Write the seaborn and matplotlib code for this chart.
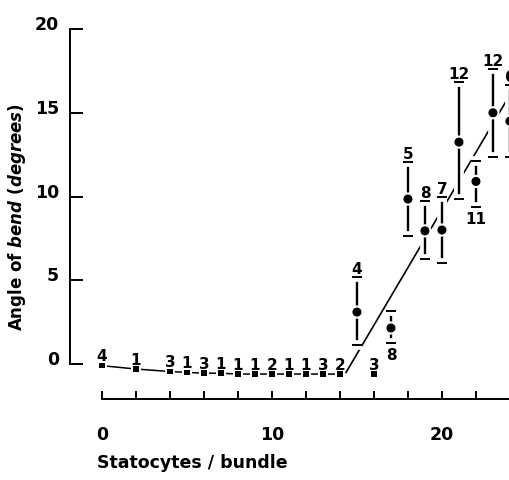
import numpy as np
import pandas as pd
import matplotlib
matplotlib.use("Agg")
import matplotlib.pyplot as plt
import matplotlib.patheffects as pe
from matplotlib.transforms import ScaledTranslation
import seaborn as sns

# ---- data ----
low_x = [0, 2, 4, 5, 6, 7, 8, 9, 10, 11, 12, 13, 14]
low_y = [-0.1, -0.3, -0.45, -0.5, -0.55, -0.55, -0.6, -0.6, -0.6, -0.6, -0.6, -0.6, -0.6]
low_n = [4, 1, 3, 1, 3, 1, 1, 1, 2, 1, 1, 3, 2]

lone_x = [16]
lone_y = [-0.6]
lone_n = [3]

err_x = [15, 17, 18, 19, 20, 21, 22, 23, 24]
err_y = [3.1, 2.15, 9.85, 7.95, 8.0, 13.25, 10.9, 15.0, 14.5]
err_lo = [1.13, 1.25, 7.64, 6.27, 6.03, 9.85, 9.37, 12.36, 12.36]
err_hi = [5.2, 3.16, 12.06, 9.73, 9.97, 16.84, 12.12, 17.61, 16.66]
err_n = [4, 8, 5, 8, 7, 12, 11, 12, 6]
err_label_below = [False, True, False, False, False, False, True, False, False]

fit_slope = 1.72
fit_intercept = -25.2
fit_x_range = [14.35, 25.5]

x_major = [0, 10, 20]
x_minor = list(range(0, 26, 2))
y_ticks = [0, 5, 10, 15, 20]

# ---- style ----
sns.set_style("ticks")
plt.rcParams["font.family"] = ["DejaVu Sans"]
plt.rcParams["font.weight"] = "bold"
plt.rcParams["mathtext.fontset"] = "dejavusans"
for k in ["text.color", "axes.labelcolor", "xtick.color", "ytick.color", "axes.edgecolor"]:
    plt.rcParams[k] = "black"

fig = plt.figure(figsize=(5.09, 4.81), dpi=100)
ax = fig.add_axes([70 / 509, 81 / 481, 460 / 509, 380 / 481])
ax.set_xlim(-1.88, 25.18)
ax.set_ylim(-2.09, 20.6)

lw = 1.4

# fitted regression line (drawn first so halos cut it)
fit_df = pd.DataFrame({"x": fit_x_range,
                       "y": [fit_intercept + fit_slope * v for v in fit_x_range]})
sns.lineplot(data=fit_df, x="x", y="y", ax=ax, color="black", lw=1.2, zorder=1)

# line through the low points
low_df = pd.DataFrame({"x": low_x, "y": low_y, "n": low_n})
sns.lineplot(data=low_df, x="x", y="y", ax=ax, color="black", lw=1.1, zorder=1)

# white halo behind low markers to break the line
all_low = pd.concat([low_df, pd.DataFrame({"x": lone_x, "y": lone_y, "n": lone_n})])
sns.scatterplot(data=all_low, x="x", y="y", ax=ax, marker="s", s=55, color="white",
                edgecolor="none", zorder=2)
sns.scatterplot(data=all_low, x="x", y="y", ax=ax, marker="s", s=16, color="black",
                edgecolor="none", zorder=3)

# error bar points
yerr = np.array([[y - lo for y, lo in zip(err_y, err_lo)],
                 [hi - y for y, hi in zip(err_y, err_hi)]])
eb = ax.errorbar(err_x, err_y, yerr=yerr, fmt="o", ms=5.5, color="black",
                 ecolor="black", elinewidth=1.7, capsize=3.5, capthick=1.4, zorder=4)
halo = [pe.Stroke(linewidth=7, foreground="white"), pe.Normal()]
for c in eb[2]:
    c.set_path_effects(halo)
for c in eb[1]:
    c.set_path_effects(halo)
eb[0].set_path_effects([pe.Stroke(linewidth=4, foreground="white"), pe.Normal()])

# count labels
lab_kw = dict(textcoords="offset points", ha="center", fontsize=11, fontweight="bold",
              color="black", zorder=5)
for x, y, n in zip(all_low["x"], all_low["y"], all_low["n"]):
    ax.annotate(str(n), (x, y), xytext=(0, 3.8), va="baseline", **lab_kw)
for x, lo, hi, n, below in zip(err_x, err_lo, err_hi, err_n, err_label_below):
    if below:
        ax.annotate(str(n), (x, lo), xytext=(0, -3), va="top", **lab_kw)
    else:
        ax.annotate(str(n), (x, hi), xytext=(0, 3), va="baseline", **lab_kw)

# axes styling
for s in ["top", "right"]:
    ax.spines[s].set_visible(False)
ax.spines["left"].set_bounds(0, 20)
ax.spines["bottom"].set_bounds(0, 25.18)
ax.spines["left"].set_linewidth(lw)
ax.spines["bottom"].set_linewidth(lw)

ax.set_xticks(x_major)
ax.set_xticks(x_minor, minor=True)
ax.set_yticks(y_ticks)
ax.set_xticklabels([str(v) for v in x_major])
ax.set_yticklabels([str(v) for v in y_ticks])
ax.tick_params(axis="x", which="both", direction="in", length=6, width=lw, pad=19,
               labelsize=12.5, colors="black")
ax.tick_params(axis="y", which="both", direction="in", length=9, width=lw, pad=8,
               labelsize=12.5, colors="black")
for t in ax.get_yticklabels():
    t.set_fontweight("bold")
    t.set_transform(t.get_transform() + ScaledTranslation(0, 7 / 100, fig.dpi_scale_trans))
for t in ax.get_xticklabels():
    t.set_fontweight("bold")
ax.set_xlabel("")
ax.set_ylabel("")

fig.text(97 / 509, 1 - 463 / 481, "Statocytes / bundle", ha="left", va="center",
         fontsize=12.5, fontweight="bold", color="black")
fig.text(17 / 509, 1 - 217 / 481, r"Angle of $\mathbfit{bend}$ ($\mathbfit{degrees}$)",
         rotation=90, ha="center", va="center", fontsize=12, fontweight="bold",
         color="black")

fig.savefig("out.png", dpi=100, facecolor="white")
